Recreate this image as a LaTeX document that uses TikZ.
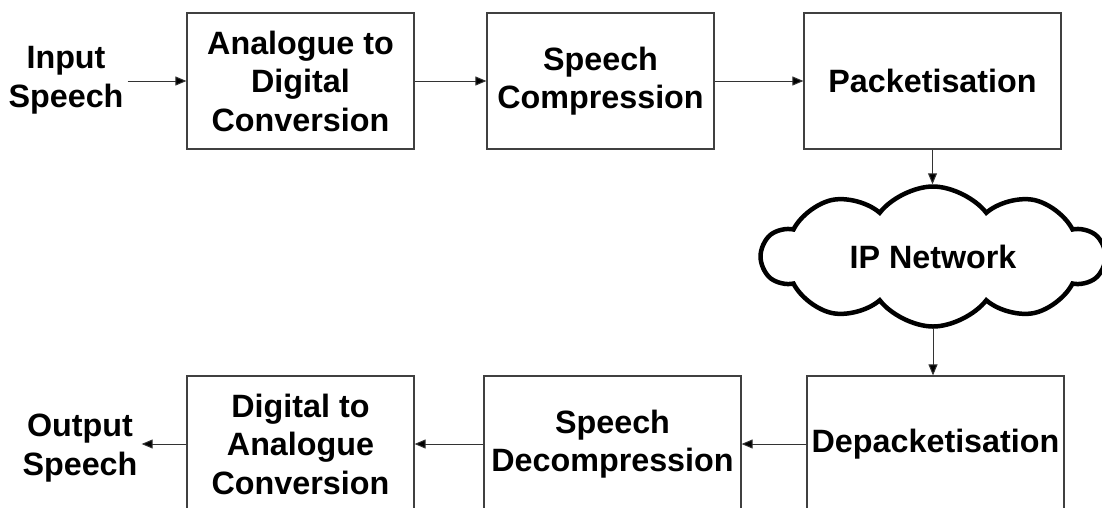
\documentclass[tikz,border=0pt]{standalone}
\usepackage{fontspec}
\setmainfont{Liberation Sans}
\usetikzlibrary{arrows.meta,shapes.symbols}
\begin{document}
\begin{tikzpicture}[x=1pt,y=-1pt,
  every node/.style={font=\fontsize{32.3}{38.5}\selectfont\bfseries, align=center},
  block/.style={draw=black!75, line width=1.2pt, minimum height=136pt, inner sep=0pt},
  label/.style={inner sep=4pt},
  flow/.style={draw=black!80, line width=1pt, -{Triangle[length=11pt,width=9pt,fill=black]}},
  net/.style={cloud, cloud puffs=10, cloud puff arc=105, aspect=2.4,
    draw=black, line width=4.5pt, minimum width=342pt, minimum height=140pt, inner sep=0pt}
]
\useasboundingbox (0,0) rectangle (1102,507);
\clip (0,0) rectangle (1102,507);

% sending side
\node[label] (in) at (66,80) {Input\\Speech};
\node[block, minimum width=227pt] (ad) at (300.5,81) {Analogue to\\Digital\\Conversion};
\node[block, minimum width=227pt] (sc) at (600.5,81) {Speech\\Compression};
\node[block, minimum width=257pt] (pk) at (932.5,81) {Packetisation};

% network
\node[net] (ip) at (933,256.5) {IP Network};

% receiving side
\node[block, minimum width=257pt] (dp) at (935.5,444) {Depacketisation};
\node[block, minimum width=257pt] (sd) at (612.5,444) {Speech\\Decompression};
\node[block, minimum width=227pt] (da) at (300.5,444) {Digital to\\Analogue\\Conversion};
\node[label] (out) at (80,448) {Output\\Speech};

% connectors
\draw[flow] (in.east |- ad.west) -- (ad.west);
\draw[flow] (ad.east) -- (sc.west);
\draw[flow] (sc.east) -- (pk.west);
\draw[flow] (pk.south) -- (pk.south |- ip.north);
\draw[flow] (ip.south) -- (ip.south |- dp.north);
\draw[flow] (dp.west) -- (sd.east);
\draw[flow] (sd.west) -- (da.east);
\draw[flow] (da.west) -- (out.east |- da.west);
\end{tikzpicture}
\end{document}
